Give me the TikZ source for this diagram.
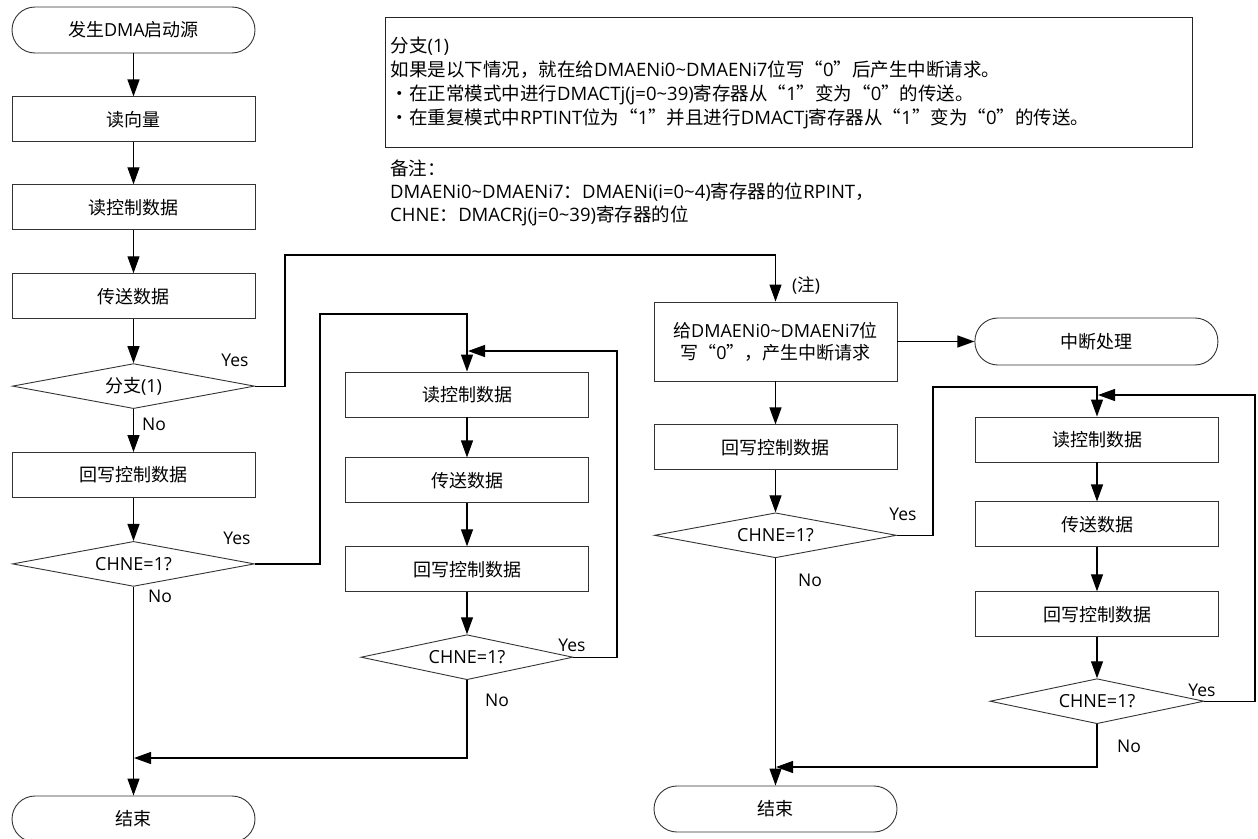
\documentclass[tikz,border=0pt]{standalone}
\usepackage{fontspec}
\setmainfont{Open Sans}
\newfontfamily\cjkf{Noto Sans CJK SC}
% switch to the CJK face for Han characters and full-width punctuation
\newXeTeXintercharclass\hanchar
\newcount\hcnt
\hcnt="3000 \loop \XeTeXcharclass\hcnt=\hanchar \advance\hcnt 1 \ifnum\hcnt<"3040 \repeat
\hcnt="4E00 \loop \XeTeXcharclass\hcnt=\hanchar \advance\hcnt 1 \ifnum\hcnt<"A000 \repeat
\hcnt="FF00 \loop \XeTeXcharclass\hcnt=\hanchar \advance\hcnt 1 \ifnum\hcnt<"FF61 \repeat
\XeTeXcharclass"201C=\hanchar
\XeTeXcharclass"201D=\hanchar
\XeTeXcharclass"30FB=\hanchar
\XeTeXinterchartokenstate=1
\XeTeXinterchartoks 0 \hanchar = {\cjkf}
\XeTeXinterchartoks 4095 \hanchar = {\cjkf}
\XeTeXinterchartoks \hanchar 0 = {\rmfamily}
\XeTeXinterchartoks 4095 0 = {\rmfamily}
\usetikzlibrary{shapes.geometric,arrows.meta,positioning}
\newcommand{\tildech}{\textasciitilde}
\tikzset{
  base/.style={draw=black!80, line width=0.9pt, font=\fontsize{18}{22}\selectfont, align=center, inner sep=2pt},
  stepbox/.style={base, rectangle, minimum width=243pt, minimum height=45pt},
  term/.style={base, rectangle, rounded corners=23pt, minimum width=243pt, minimum height=46pt},
  decision/.style={base, diamond, aspect=5, inner sep=0pt, minimum width=242pt, minimum height=45pt},
  notebox/.style={draw=black!85, line width=1.3pt, font=\fontsize{18.5}{24}\selectfont, align=left, inner xsep=5pt},
  lbl/.style={font=\fontsize{17.5}{22}\selectfont, inner sep=0pt},
  arr/.style={-{Triangle[length=17pt,width=12pt]}, line width=1.2pt}
}
\begin{document}
\begin{tikzpicture}[x=1pt, y=-1pt]
\useasboundingbox (0,0) rectangle (1258,838);

% left column
\node[term] (start) at (133.5,30) {发生DMA启动源};
\node[stepbox, below=43pt of start] (readvec) {读向量};
\node[stepbox, below=42pt of readvec] (readctl) {读控制数据};
\node[stepbox, below=43pt of readctl] (xfer) {传送数据};
\node[decision, below=44pt of xfer] (branch) {分支(1)};
\node[stepbox, below=43pt of branch] (wb) {回写控制数据};
\node[decision, below=43pt of wb] (chne) {CHNE=1?};
\node[term] (lend) at (133.5,819) {结束};

% middle loop
\node[stepbox] (mrc) at (467,394.5) {读控制数据};
\node[stepbox, below=40pt of mrc] (mxf) {传送数据};
\node[stepbox, below=43pt of mxf] (mwb) {回写控制数据};
\node[decision, minimum width=212pt, below=42pt of mwb] (mchne) {CHNE=1?};

% right column
\node[stepbox, minimum height=79pt] (intreq) at (775.5,341.5) {给DMAENi0\tildech DMAENi7位\\写“0”，产生中断请求};
\node[term, minimum height=47pt, right=77pt of intreq] (intr) {中断处理};
\node[stepbox, below=43pt of intreq] (rwb) {回写控制数据};
\node[decision, below=42pt of rwb] (rchne) {CHNE=1?};
\node[term] (rend) at (775.5,809) {结束};

% right loop
\node[stepbox] (rrc) at (1097,439.5) {读控制数据};
\node[stepbox, below=39pt of rrc] (rxf) {传送数据};
\node[stepbox, below=44pt of rxf] (rwb2) {回写控制数据};
\node[decision, minimum width=214pt, below=41pt of rwb2] (rchne2) {CHNE=1?};

% notes
\node[notebox, anchor=north west, minimum width=807pt, minimum height=130pt, text width=797pt] (cond) at (385,17)
  {分支(1)\\如果是以下情况，就在给DMAENi0\tildech DMAENi7位写“0”后产生中断请求。\\・在正常模式中进行DMACTj(j=0\tildech 39)寄存器从“1”变为“0”的传送。\\・在重复模式中RPTINT位为“1”并且进行DMACTj寄存器从“1”变为“0”的传送。};
\node[anchor=north west, align=left, inner xsep=5pt, font=\fontsize{18.5}{23}\selectfont] (remark) at (385,156)
  {备注：\\DMAENi0\tildech DMAENi7：DMAENi(i=0\tildech 4)寄存器的位RPINT，\\CHNE：DMACRj(j=0\tildech 39)寄存器的位};

\coordinate (mloop) at (468,351);
\coordinate (rloop) at (1098,395);
\coordinate (lmerge) at (134,758);
\coordinate (rmerge) at (776,767);

\foreach \a/\b in {start/readvec, readvec/readctl, readctl/xfer, xfer/branch, branch/wb, wb/chne, chne/lend,
  mrc/mxf, mxf/mwb, mwb/mchne, intreq/intr, intreq/rwb, rwb/rchne, rchne/rend, rrc/rxf, rxf/rwb2, rwb2/rchne2}
  \draw[arr] (\a) -- (\b);

\draw[arr] (branch.east) -| (285,255) -| (intreq.north);
\draw[arr] (chne.east) -| (320,314) -| (mrc.north);
\draw[arr] (mchne.east) -| (617,351) -- (mloop);
\draw[arr] (mchne.south) |- (lmerge);
\draw[arr] (rchne.east) -| (933,387) -| (rrc.north);
\draw[arr] (rchne2.east) -| (1255,395) -- (rloop);
\draw[arr] (rchne2.south) |- (rmerge);

\node[lbl] (yes1) at (235,360) {Yes};
\node[lbl] (no1) at (154,424) {No};
\node[lbl] (yes2) at (237,538) {Yes};
\node[lbl] (no2) at (160,596) {No};
\node[lbl] (yes3) at (572,645) {Yes};
\node[lbl] (no3) at (497,700) {No};
\node[lbl] (hint) at (806,285) {(注)};
\node[lbl] (yes4) at (903,514) {Yes};
\node[lbl] (no4) at (810,580) {No};
\node[lbl] (yes5) at (1202,690) {Yes};
\node[lbl] (no5) at (1129,746) {No};
\end{tikzpicture}
\end{document}
